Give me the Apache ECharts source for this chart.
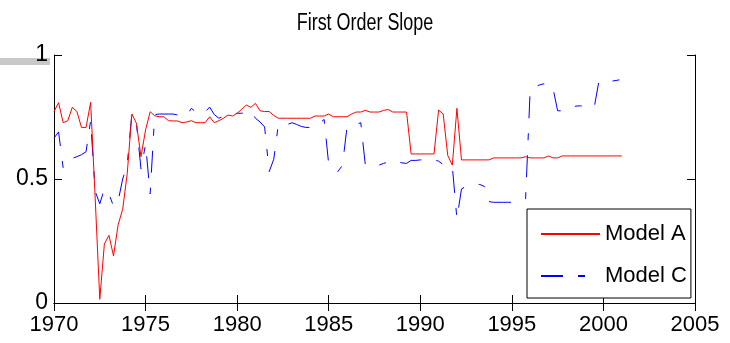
<!DOCTYPE html>
<html>
<head>
<meta charset="utf-8">
<script src="https://cdn.jsdelivr.net/npm/echarts@6/dist/echarts.min.js"></script>
<style>
html,body{margin:0;padding:0;background:#fff;}
#chart{width:730px;height:343px;}
</style>
</head>
<body>
<div id="chart"></div>
<script>
// ---- data ----
const titleText = "First Order Slope";
const seriesNames = ["Model A", "Model C"];
const startYear = 1970;      // first quarter shown
const quarterStep = 0.25;    // quarterly observations
const xTicks = [1970, 1975, 1980, 1985, 1990, 1995, 2000, 2005];
const yTicks = [0, 0.5, 1];

const modelA = [
  0.772, 0.808, 0.727, 0.735, 0.789, 0.772, 0.708, 0.708, 0.809, 0.42,
  0.015, 0.238, 0.273, 0.19, 0.315, 0.378, 0.523, 0.762, 0.725, 0.59,
  0.698, 0.771, 0.755, 0.751, 0.751, 0.735, 0.734, 0.734, 0.727, 0.73,
  0.735, 0.727, 0.727, 0.727, 0.751, 0.727, 0.735, 0.745, 0.758, 0.754,
  0.765, 0.781, 0.798, 0.789, 0.805, 0.775, 0.772, 0.772, 0.756, 0.745,
  0.745, 0.745, 0.745, 0.745, 0.745, 0.745, 0.745, 0.754, 0.754, 0.754,
  0.762, 0.751, 0.751, 0.751, 0.751, 0.762, 0.770, 0.770, 0.777, 0.770,
  0.770, 0.770, 0.777, 0.780, 0.770, 0.770, 0.770, 0.770, 0.601, 0.601,
  0.601, 0.601, 0.601, 0.601, 0.778, 0.762, 0.595, 0.556, 0.785, 0.577,
  0.577, 0.577, 0.577, 0.577, 0.577, 0.577, 0.585, 0.585, 0.585, 0.585,
  0.585, 0.585, 0.585, 0.59, 0.585, 0.585, 0.585, 0.585, 0.593, 0.585,
  0.585, 0.593, 0.593, 0.593, 0.593, 0.593, 0.593, 0.593, 0.593, 0.593,
  0.593, 0.593, 0.593, 0.593, 0.593
];

const modelC = [
  0.665, 0.69, 0.545, 0.575, 0.583, 0.59, 0.598, 0.61, 0.735, 0.45,
  0.40, 0.46, 0.44, 0.39, 0.41, 0.50, 0.56, 0.762, 0.725, 0.54,
  0.64, 0.44, 0.76, 0.762, 0.762, 0.762, 0.762, 0.758, 0.752, 0.755,
  0.785, 0.77, 0.76, 0.77, 0.79, 0.76, 0.745, 0.754, 0.76, 0.762,
  0.765, 0.765, 0.77, 0.775, 0.745, 0.73, 0.71, 0.53, 0.58, 0.72,
  0.72, 0.72, 0.727, 0.72, 0.712, 0.708, 0.708, 0.708, 0.725, 0.74,
  0.56, 0.55, 0.53, 0.555, 0.71, 0.715, 0.72, 0.727, 0.556, 0.556,
  0.556, 0.556, 0.563, 0.568, 0.574, 0.57, 0.565, 0.563, 0.575, 0.575,
  0.577, 0.577, 0.577, 0.577, 0.572, 0.558, 0.556, 0.55, 0.34, 0.46,
  0.47, 0.475, 0.478, 0.478, 0.47, 0.409, 0.406, 0.406, 0.406, 0.406,
  0.406, 0.41, 0.41, 0.42, 0.86, 0.87, 0.879, 0.884, 0.886, 0.865,
  0.775, 0.775, 0.78, 0.79, 0.794, 0.795, 0.792, 0.79, 0.79, 0.892,
  0.892, 0.892, 0.895, 0.898, 0.902
];

// ---- chart ----
const FONT = "'Liberation Sans', Arial, sans-serif";
const quarters = modelA.map((_, i) => startYear + i * quarterStep);
const pairs = (vals) => vals.map((v, i) => [quarters[i], v]);

const xMin = xTicks[0], xMax = xTicks[xTicks.length - 1];
const yMin = yTicks[0], yMax = yTicks[yTicks.length - 1];

const axisCommon = {
  axisLine: { show: true, lineStyle: { color: '#000', width: 1 } },
  axisTick: { show: true, inside: true, length: 8, lineStyle: { color: '#000', width: 1 } },
  splitLine: { show: false }
};

const chart = echarts.init(document.getElementById('chart'), null, { renderer: 'canvas' });
chart.setOption({
  animation: false,
  backgroundColor: '#fff',
  graphic: [
    {
      type: 'rect', z: 0,
      shape: { x: 0, y: 58, width: 50, height: 7 },
      style: { fill: '#c8c8c8' }
    },
    {
      type: 'text', z: 10,
      x: 365, y: 12, scaleX: 0.78,
      style: { text: titleText, fontFamily: FONT, fontSize: 23, fill: '#000',
               textAlign: 'center', textVerticalAlign: 'top' }
    }
  ],
  grid: { left: 54, right: 35, top: 55, bottom: 40, containLabel: false },
  xAxis: [
    Object.assign({}, axisCommon, {
      type: 'value', position: 'bottom', min: xMin, max: xMax, interval: 5,
      axisLabel: { show: true, margin: 11, color: '#000', fontFamily: FONT, fontSize: 22,
                   formatter: (v) => String(v) }
    }),
    Object.assign({}, axisCommon, {
      type: 'value', position: 'top', min: xMin, max: xMax, interval: 5,
      axisLabel: { show: false }
    })
  ],
  yAxis: [
    Object.assign({}, axisCommon, {
      type: 'value', position: 'left', min: yMin, max: yMax, interval: 0.5,
      axisLabel: { show: true, margin: 6, color: '#000', fontFamily: FONT, fontSize: 23,
                   formatter: (v) => (yTicks.indexOf(v) >= 0 ? String(v) : '') }
    }),
    Object.assign({}, axisCommon, {
      type: 'value', position: 'right', min: yMin, max: yMax, interval: 0.5,
      axisLabel: { show: false }
    })
  ],
  legend: {
    orient: 'vertical',
    left: 527,
    top: 209,
    padding: [14, 4, 11, 13],
    itemGap: 20,
    itemWidth: 59,
    itemHeight: 24,
    backgroundColor: '#fff',
    borderColor: '#000',
    borderWidth: 1,
    borderRadius: 0,
    itemStyle: { opacity: 0 },
    textStyle: { fontFamily: FONT, fontSize: 22, color: '#000' },
    data: seriesNames
  },
  series: [
    {
      name: seriesNames[0], type: 'line', data: pairs(modelA),
      showSymbol: false, symbol: 'none',
      lineStyle: { color: '#ff0000', width: 1, type: 'solid' },
      itemStyle: { color: '#ff0000' },
      z: 3
    },
    {
      name: seriesNames[1], type: 'line', data: pairs(modelC),
      showSymbol: false, symbol: 'none',
      lineStyle: { color: '#0000ff', width: 1, type: [22, 15, 7, 15] },
      itemStyle: { color: '#0000ff' },
      z: 2
    }
  ]
});
</script>
</body>
</html>
